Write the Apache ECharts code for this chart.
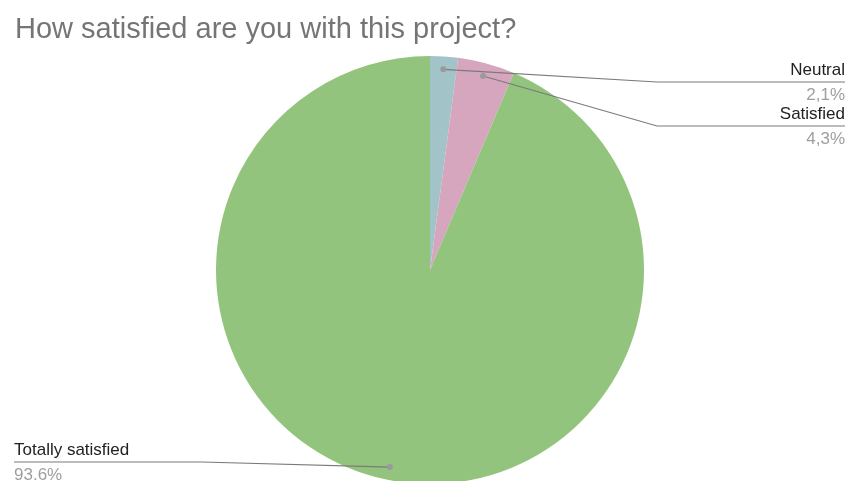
<!DOCTYPE html>
<html>
<head>
<meta charset="utf-8">
<style>
  html, body { margin: 0; padding: 0; background: #fff; }
  #chart { width: 849px; height: 481px; }
</style>
<script src="https://cdn.jsdelivr.net/npm/echarts@6/dist/echarts.min.js"></script>
</head>
<body>
<div id="chart"></div>
<script>
// Survey answers
const categories = ['Neutral', 'Satisfied', 'Totally satisfied'];
const shares = [2.1, 4.3, 93.6];
const shareLabels = ['2,1%', '4,3%', '93.6%'];

// Styling / layout
const sliceColors = ['#a2c4c9', '#d5a6bd', '#93c47d'];
const FONT = '"Liberation Sans", Arial, sans-serif';
const CX = 430, CY = 270, R = 214;
const ANCHOR_RATIO = 0.94;
// callout rows: line height position, elbow, end of line, side of text
const callouts = [
  { lineY: 82, elbowX: 657, endX: 845, side: 'right' },
  { lineY: 126, elbowX: 657, endX: 845, side: 'right' },
  { lineY: 462, elbowX: 202, endX: 14, side: 'left' }
];

const total = shares.reduce((a, b) => a + b, 0);

// point inside each slice (mid angle) where its callout line starts
function anchorOf(i) {
  let before = 0;
  for (let k = 0; k < i; k++) before += shares[k];
  const mid = (before + shares[i] / 2) / total * Math.PI * 2;
  return [CX + ANCHOR_RATIO * R * Math.sin(mid), CY - ANCHOR_RATIO * R * Math.cos(mid)];
}

// callout leader lines and their start dots, drawn above every slice
const leaders = [];
categories.forEach((name, i) => {
  const a = anchorOf(i);
  const c = callouts[i];
  leaders.push({
    type: 'polyline',
    z: 100,
    shape: { points: [a, [c.elbowX, c.lineY], [c.endX, c.lineY]] },
    style: { stroke: '#7a7a7a', lineWidth: 1.2, fill: null }
  });
  leaders.push({
    type: 'circle',
    z: 101,
    shape: { cx: a[0], cy: a[1], r: 3 },
    style: { fill: '#9a9a9a' }
  });
});

const chart = echarts.init(document.getElementById('chart'), null, { renderer: 'canvas' });

chart.setOption({
  animation: false,
  backgroundColor: '#ffffff',
  title: {
    text: 'How satisfied are you with this project?',
    left: 10,
    top: 10,
    textStyle: { fontFamily: FONT, fontSize: 29, fontWeight: 'normal', color: '#757575' }
  },
  series: [{
    type: 'pie',
    center: [CX, CY],
    radius: R,
    startAngle: 90,
    clockwise: true,
    avoidLabelOverlap: false,
    emphasis: { disabled: true },
    itemStyle: { borderWidth: 0 },
    data: categories.map((name, i) => ({
      name: name,
      value: shares[i],
      itemStyle: { color: sliceColors[i] }
    })),
    label: {
      show: true,
      position: 'outside',
      fontFamily: FONT,
      formatter: (p) => '{name|' + p.name + '}\n{val|' + shareLabels[p.dataIndex] + '}',
      rich: {
        name: { fontFamily: FONT, fontSize: 17, color: '#222222', lineHeight: 24 },
        val: { fontFamily: FONT, fontSize: 17, color: '#9e9e9e', lineHeight: 26 }
      }
    },
    labelLine: { show: false },
    labelLayout: function (params) {
      const c = callouts[params.dataIndex];
      return {
        x: c.endX,
        y: c.lineY + 1,
        align: c.side,
        verticalAlign: 'middle'
      };
    }
  }],
  graphic: leaders
});
</script>
</body>
</html>
